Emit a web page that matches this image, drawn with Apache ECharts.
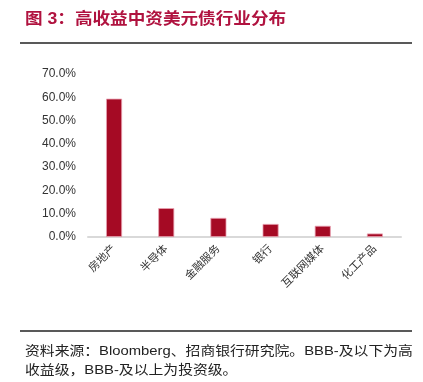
<!DOCTYPE html>
<html><head><meta charset="utf-8">
<script src="https://cdn.jsdelivr.net/npm/echarts@6/dist/echarts.min.js"></script>
<style>html,body{margin:0;padding:0;background:#fff}#c{width:423px;height:382px}</style>
</head><body><div id="c"></div>
<script>
const categories = ['房地产','半导体','金融服务','银行','互联网媒体','化工产品'];
const shares = [59.4, 12.4, 8.2, 5.6, 4.8, 1.5];
const yTicks = {min: 0, max: 70, interval: 10};
const titleText = '图 3：高收益中资美元债行业分布';
const noteText = '资料来源：Bloomberg、招商银行研究院。BBB-及以下为高\n收益级，BBB-及以上为投资级。';

const FONT = '"Liberation Sans", "Noto Sans CJK SC", sans-serif';
const chart = echarts.init(document.getElementById('c'));
chart.setOption({
  animation: false,
  backgroundColor: '#fff',
  graphic: [
    {type: 'text', x: 25, y: 12, scaleX: 1.1,
     style: {text: titleText, fill: '#b0123f', font: 'bold 16px ' + FONT}},
    {type: 'line', shape: {x1: 20, y1: 43, x2: 412, y2: 43}, style: {stroke: '#222', lineWidth: 1.5}},
    {type: 'line', shape: {x1: 20, y1: 331, x2: 412, y2: 331}, style: {stroke: '#222', lineWidth: 1.5}},
    {type: 'text', x: 25, y: 342, scaleX: 1.14,
     style: {text: noteText, fill: '#222', font: '13px ' + FONT, lineHeight: 19}}
  ],
  grid: {left: 88, right: 22, top: 74, bottom: 145},
  xAxis: {
    type: 'category', data: categories,
    axisLine: {lineStyle: {color: '#d9d9d9', width: 2}},
    axisTick: {show: false},
    axisLabel: {rotate: 45, color: '#333', fontSize: 11, fontFamily: FONT, margin: 10, interval: 0}
  },
  yAxis: {
    type: 'value', min: yTicks.min, max: yTicks.max, interval: yTicks.interval,
    splitLine: {show: false}, axisLine: {show: false}, axisTick: {show: false},
    axisLabel: {formatter: v => v.toFixed(1) + '%', color: '#333', fontSize: 12, fontFamily: FONT, margin: 12}
  },
  series: [{
    type: 'bar', data: shares, barWidth: 16,
    itemStyle: {color: '#a50a24', borderColor: '#e8a0b0', borderWidth: 0.8}
  }]
});
</script></body></html>
